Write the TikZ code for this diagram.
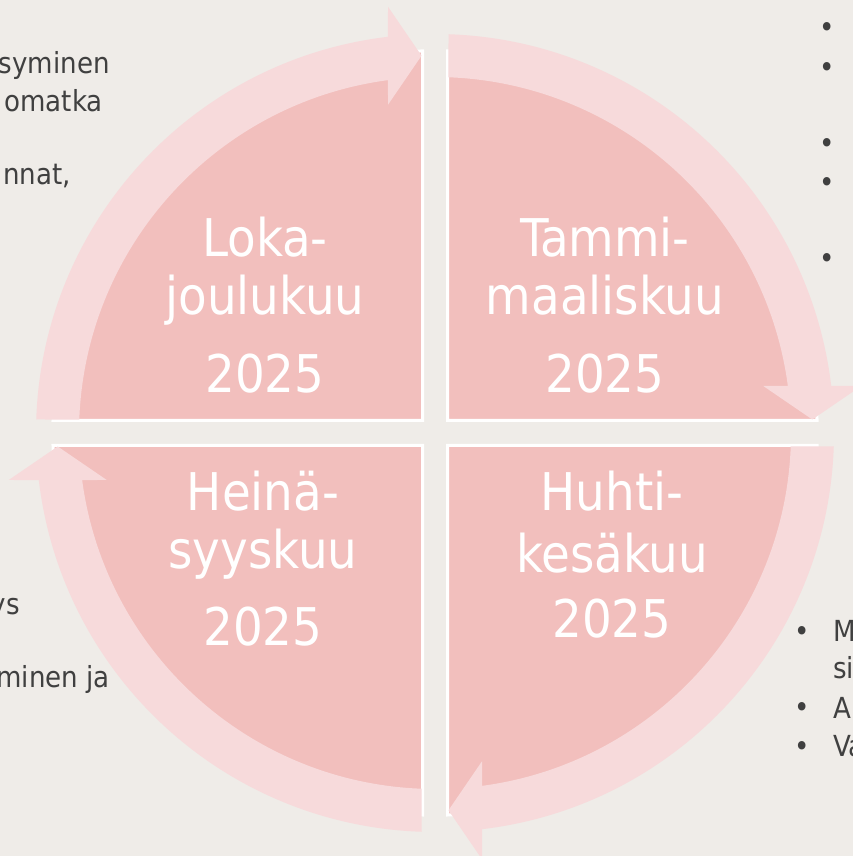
\documentclass[tikz,border=0pt]{standalone}
\usepackage{fontspec}
\setmainfont{DejaVu Sans}
\newfontfamily\quadfont{DejaVu Sans Condensed}
\definecolor{bg}{RGB}{239,236,232}
\definecolor{quadpink}{RGB}{242,191,189}
\definecolor{arrpink}{RGB}{247,218,219}
\definecolor{txtgray}{RGB}{64,64,64}
\tikzset{
  quadshape/.style={fill=quadpink, draw=white, line width=3pt, line join=miter},
  arrshape/.style={fill=arrpink},
  quadtext/.style={inner sep=0pt, anchor=base, text=white, font=\quadfont\fontsize{52}{60}\selectfont},
  bodytext/.style={inner sep=0pt, text=txtgray, font=\quadfont\fontsize{29}{35}\selectfont},
  bul/.style={inner sep=0pt, anchor=base, text=txtgray, font=\quadfont\fontsize{29}{35}\selectfont}
}
\begin{document}
\begin{tikzpicture}[x=1pt,y=1pt]
\useasboundingbox (0,0) rectangle (853,856);
\fill[bg] (0,0) rectangle (853,856);
\begin{scope}
\clip (0,0) rectangle (853,856);
% quadrants
\foreach \r in {0,-90,-180,-270} {
  \begin{scope}[shift={(435,423)}, rotate=\r]
    \draw[quadshape] (-12.5,12.5) -- (-382,12.5) arc[start angle=180, end angle=90, radius=369.5] -- cycle;
  \end{scope}
}
% arrows
\foreach \r in {0,-90,-180,-270} {
  \begin{scope}[shift={(435,423)}, rotate=\r]
    \fill[arrshape] (178.06:399) arc[start angle=178.06, end angle=96.77, radius=399]
      -- (-47,426.26) -- (-13.5,377.26) -- (-47,328.26)
      -- (97.59:356) arc[start angle=97.59, end angle=177.83, radius=356] -- cycle;
  \end{scope}
}
% quadrant texts
\node[quadtext] (tl1) at (265,599) {Loka-};
\node[quadtext] (tl2) at (265,541) {joulukuu};
\node[quadtext] (tl3) at (265,463) {2025};
\node[quadtext] (tr1) at (605,599) {Tammi-};
\node[quadtext] (tr2) at (605,541) {maaliskuu};
\node[quadtext] (tr3) at (605,463) {2025};
\node[quadtext] (bl1) at (263,345) {Heinä-};
\node[quadtext] (bl2) at (263,287) {syyskuu};
\node[quadtext] (bl3) at (263,210) {2025};
\node[quadtext] (br1) at (612,345) {Huhti-};
\node[quadtext] (br2) at (612,283) {kesäkuu};
\node[quadtext] (br3) at (612,218) {2025};
% left texts
\node[bodytext, anchor=base east] (l1) at (110,782) {syminen};
\node[bodytext, anchor=base east] (l2) at (103,744) {omatka};
\node[bodytext, anchor=base east] (l3) at (71,671) {nnat,};
\node[bodytext, anchor=base east] (l4) at (20,241) {ys};
\node[bodytext, anchor=base east] (l5) at (110,168) {minen ja};
% top right bullets
\node[bul] (b1) at (827,818) {•};
\node[bul] (b2) at (827,778) {•};
\node[bul] (b3) at (827,702) {•};
\node[bul] (b4) at (827,663) {•};
\node[bul] (b5) at (827,587) {•};
% bottom right list
\node[bul] (b6) at (802,214) {•};
\node[bul] (b7) at (802,138) {•};
\node[bul] (b8) at (802,99) {•};
\node[bodytext, anchor=base west] (r1) at (833,214) {M};
\node[bodytext, anchor=base west] (r2) at (833,177) {si};
\node[bodytext, anchor=base west] (r3) at (833,137) {A};
\node[bodytext, anchor=base west] (r4) at (833,99) {Va};
\end{scope}
\end{tikzpicture}
\end{document}
